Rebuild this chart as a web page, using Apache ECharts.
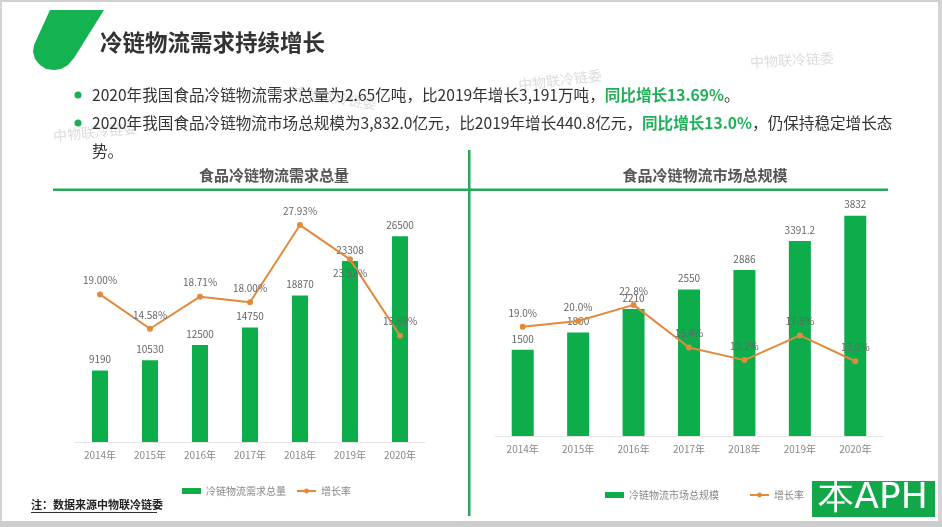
<!DOCTYPE html>
<html><head><meta charset="utf-8">
<script src="https://cdn.jsdelivr.net/npm/echarts@6/dist/echarts.min.js"></script>
<style>html,body{margin:0;padding:0;background:#fff}#c{width:942px;height:527px}</style>
</head><body><div id="c"></div>
<script>
const years = ['2014年','2015年','2016年','2017年','2018年','2019年','2020年'];
const demand = [9190, 10530, 12500, 14750, 18870, 23308, 26500];
const demandGrowth = [19.00, 14.58, 18.71, 18.00, 27.93, 23.52, 13.69];
const market = [1500, 1800, 2210, 2550, 2886, 3391.2, 3832];
const marketGrowth = [19.0, 20.0, 22.8, 15.4, 13.2, 17.5, 13.0];

const GREEN = '#0DAD4C';
const ORANGE = '#E08A3C';
const FONT = '"Noto Sans CJK SC","Noto Sans",sans-serif';
const chart = echarts.init(document.getElementById('c'), null, {renderer:'canvas'});

const wm = (x, y, rot) => ({type:'text', x, y, rotation: rot, style:{text:'中物联冷链委', fill:'#dcdcdc', font:'14px '+FONT, textAlign:'center', textVerticalAlign:'middle'}, z:0});

const option = {
  backgroundColor:'#fff',
  textStyle:{fontFamily:FONT},
  graphic:[
    {type:'rect', shape:{x:0,y:0,width:942,height:2}, style:{fill:'#cfcfcf'}},
    {type:'rect', shape:{x:0,y:0,width:2,height:527}, style:{fill:'#d4d4d4'}},
    {type:'rect', shape:{x:938,y:0,width:4,height:527}, style:{fill:'#d4d4d4'}},
    {type:'rect', shape:{x:0,y:521,width:942,height:6}, style:{fill:'#cdcdcd'}},
    {type:'polygon', shape:{points:[[50,10],[104,10],[74,58],[68,65],[61,69],[54,70],[46,69],[40,65],[35,59],[33,52],[34,45]]}, style:{fill:'#14B250'}},
    {type:'text', x:100, y:42, style:{text:'冷链物流需求持续增长', fill:'#333', font:'bold 22.5px '+FONT, textVerticalAlign:'middle'}},
    wm(792, 60, 0.05), wm(560, 80, 0.12), wm(335, 98, -0.15), wm(95, 132, 0.1),
    {type:'circle', shape:{cx:78, cy:95, r:3.5}, style:{fill:'#14B250'}},
    {type:'circle', shape:{cx:78, cy:123, r:3.5}, style:{fill:'#14B250'}},
    {type:'text', x:92, y:95, style:{
      text:'{a|2020年我国食品冷链物流需求总量为2.65亿吨，比2019年增长3,191万吨，}{g|同比增长13.69%}{a|。}',
      textVerticalAlign:'middle',
      rich:{a:{fill:'#333', font:'15.6px '+FONT}, g:{fill:'#20B05A', font:'bold 15.6px '+FONT}}}},
    {type:'text', x:92, y:123, style:{
      text:'{a|2020年我国食品冷链物流市场总规模为3,832.0亿元，比2019年增长440.8亿元，}{g|同比增长13.0%}{a|，仍保持稳定增长态}',
      textVerticalAlign:'middle',
      rich:{a:{fill:'#333', font:'15.6px '+FONT}, g:{fill:'#20B05A', font:'bold 15.6px '+FONT}}}},
    {type:'text', x:92, y:151, style:{text:'势。', fill:'#333', font:'15.6px '+FONT, textVerticalAlign:'middle'}},
    {type:'rect', shape:{x:468,y:150,width:2.5,height:366}, style:{fill:'#27A95A'}},
    {type:'rect', shape:{x:53,y:188.5,width:416,height:2.5}, style:{fill:'#27A95A'}},
    {type:'rect', shape:{x:469,y:188.5,width:419,height:2.5}, style:{fill:'#27A95A'}},
    {type:'text', x:274, y:175, style:{text:'食品冷链物流需求总量', fill:'#555', font:'bold 15px '+FONT, textAlign:'center', textVerticalAlign:'middle'}},
    {type:'text', x:705, y:175, style:{text:'食品冷链物流市场总规模', fill:'#555', font:'bold 15px '+FONT, textAlign:'center', textVerticalAlign:'middle'}},
    {type:'text', x:31, y:505, style:{text:'注：数据来源中物联冷链委', fill:'#222', font:'bold 11px '+FONT, textVerticalAlign:'middle'}},
    {type:'rect', shape:{x:31,y:512,width:126,height:1}, style:{fill:'#333'}},
    {type:'rect', shape:{x:812,y:481,width:123,height:36}, style:{fill:'#12A84A'}, z:20},
    {type:'text', x:873, y:499, style:{text:'本APH', fill:'#fff', font:'36px "DejaVu Sans",sans-serif', textAlign:'center', textVerticalAlign:'middle'}, z:21}
  ],
  legend:[
    {left:177, top:481, itemWidth:19, itemHeight:6, itemGap:10, textStyle:{fontSize:10, color:'#888'},
     data:[{name:'冷链物流需求总量', icon:'rect'}, {name:'增长率'}]},
    {left:600, top:485, itemWidth:19, itemHeight:6, itemGap:30, textStyle:{fontSize:10, color:'#888'},
     data:[{name:'冷链物流市场总规模', icon:'rect'}, {name:'增长率'}]}
  ],
  grid:[
    {left:75, right:517, top:209, bottom:85},
    {left:495, right:59, top:206, bottom:91}
  ],
  xAxis:[
    {type:'category', gridIndex:0, data:years, axisTick:{show:false}, axisLine:{lineStyle:{color:'#e3e3e3'}}, axisLabel:{color:'#888', fontSize:10, margin:8}},
    {type:'category', gridIndex:1, data:years, axisTick:{show:false}, axisLine:{lineStyle:{color:'#e3e3e3'}}, axisLabel:{color:'#888', fontSize:10, margin:8}}
  ],
  yAxis:[
    {type:'value', gridIndex:0, min:0, max:30000, show:false},
    {type:'value', gridIndex:0, min:0, max:30, show:false},
    {type:'value', gridIndex:1, min:0, max:4000, show:false},
    {type:'value', gridIndex:1, min:0, max:40, show:false}
  ],
  series:[
    {name:'冷链物流需求总量', type:'bar', xAxisIndex:0, yAxisIndex:0, data:demand, barWidth:16,
     itemStyle:{color:GREEN}, label:{show:true, position:'top', color:'#666', fontSize:10, distance:6}},
    {name:'增长率', type:'line', xAxisIndex:0, yAxisIndex:1, symbol:'circle', symbolSize:6,
     data:demandGrowth.map((v,i)=> i===5 ? {value:v, label:{position:'bottom'}} : v),
     lineStyle:{color:ORANGE, width:2}, itemStyle:{color:ORANGE},
     label:{show:true, position:'top', color:'#666', fontSize:10, distance:6, formatter:p=>p.value.toFixed(2)+'%'}},
    {name:'冷链物流市场总规模', type:'bar', xAxisIndex:1, yAxisIndex:2, data:market, barWidth:22,
     itemStyle:{color:GREEN}, label:{show:true, position:'top', color:'#666', fontSize:10, distance:6}},
    {name:'增长率', type:'line', xAxisIndex:1, yAxisIndex:3, symbol:'circle', symbolSize:6, data:marketGrowth,
     lineStyle:{color:ORANGE, width:2}, itemStyle:{color:ORANGE},
     label:{show:true, position:'top', color:'#666', fontSize:10, distance:6, formatter:p=>p.value.toFixed(1)+'%'}}
  ]
};
chart.setOption(option);
</script></body></html>
